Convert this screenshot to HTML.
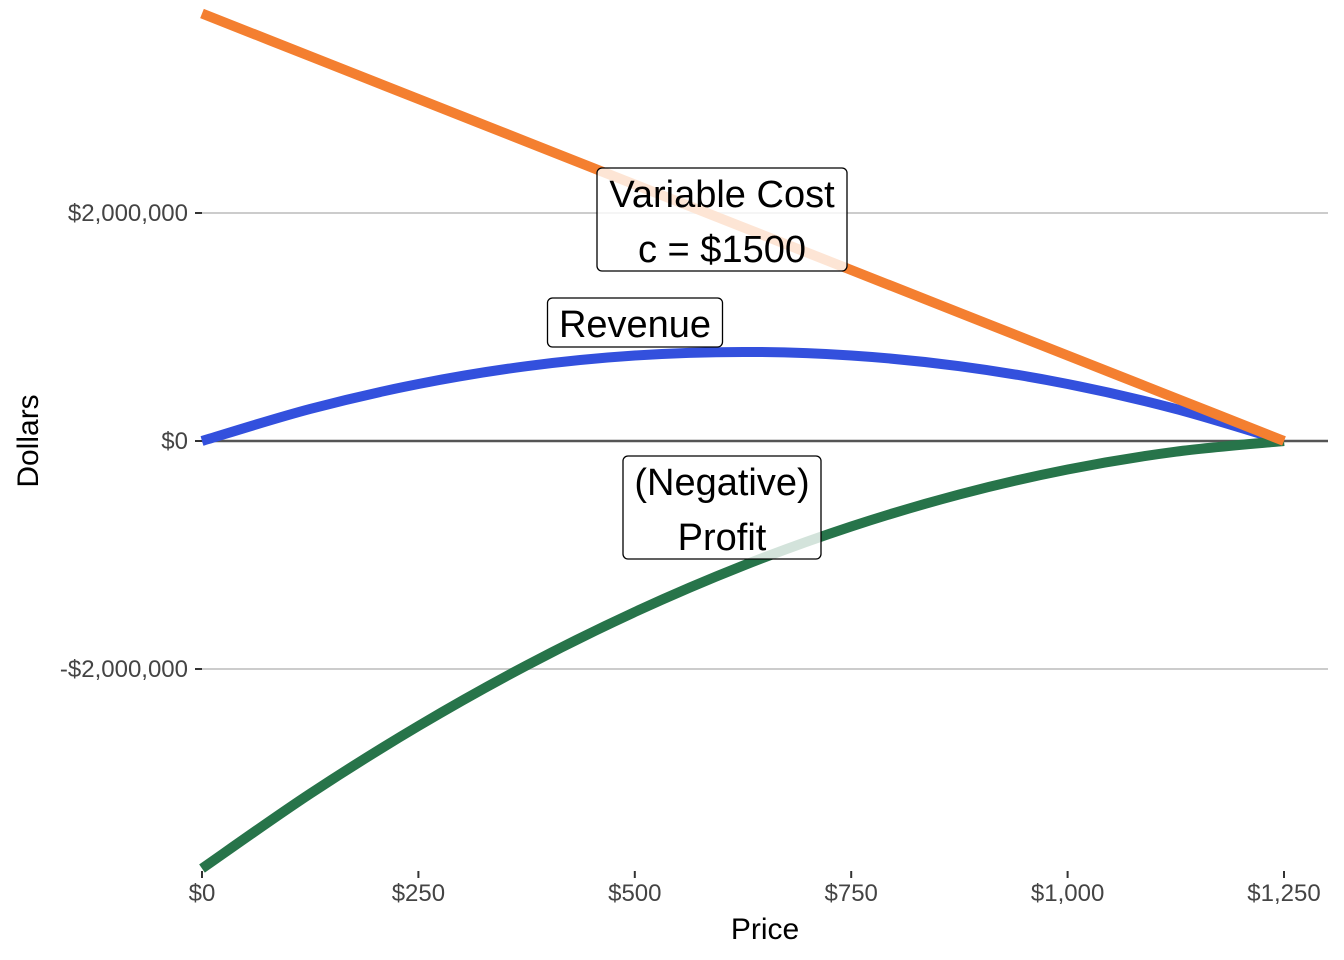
<!DOCTYPE html>
<html><head><meta charset="utf-8"><style>
html,body{margin:0;padding:0;background:#fff;}
svg{display:block;font-family:"Liberation Sans",Arial,sans-serif;}
</style></head><body>
<svg id="chart" width="1344" height="960"></svg>
<script>
const prices = [0,125,250,375,500,625,750,875,1000,1125,1250];
const revenue = [0,281250,500000,656250,750000,781250,750000,656250,500000,281250,0];
const variableCost = [3750000,3375000,3000000,2625000,2250000,1875000,1500000,1125000,750000,375000,0];
const profit = [-3750000,-3093750,-2500000,-1968750,-1500000,-1093750,-750000,-468750,-250000,-93750,0];
const xTicks = [0,250,500,750,1000,1250];
const xTickLabels = ["$0","$250","$500","$750","$1,000","$1,250"];
const yTicks = [-2000000,0,2000000];
const yTickLabels = ["-$2,000,000","$0","$2,000,000"];

const NS="http://www.w3.org/2000/svg";
const svg=document.getElementById('chart');
const X=p=>202+(p/1250)*1082;
const Y=v=>441-(v/2000000)*228;
function mk(tag,attrs,parent){const e=document.createElementNS(NS,tag);for(const k in attrs)e.setAttribute(k,attrs[k]);(parent||svg).appendChild(e);return e;}

yTicks.forEach((v,i)=>{
  const g=mk('line',{x1:202,x2:1328,y1:Y(v),y2:Y(v),stroke:v===0?'#555':'#ccc','stroke-width':v===0?2.5:2});
  
  
  const t=mk('line',{x1:195,x2:202,y1:Y(v),y2:Y(v),stroke:'#333','stroke-width':2});
  
  
  const l=mk('text',{x:188,y:Y(v)+8,'text-anchor':'end','font-size':24,fill:'#444'});
  l.textContent=yTickLabels[i];
  
  
});
xTicks.forEach((p,i)=>{
  const t=mk('line',{x1:X(p),x2:X(p),y1:871,y2:878,stroke:'#333','stroke-width':2});
  
  
  const l=mk('text',{x:X(p),y:901,'text-anchor':'middle','font-size':24,fill:'#444'});
  l.textContent=xTickLabels[i];
  
  
});

function pathFor(vals){
  const pts=prices.map((p,i)=>[X(p),Y(vals[i])]);
  let d='M'+pts[0][0]+','+pts[0][1];
  for(let i=0;i<pts.length-1;i++){
    const p0=pts[Math.max(0,i-1)],p1=pts[i],p2=pts[i+1],p3=pts[Math.min(pts.length-1,i+2)];
    const c1=[p1[0]+(p2[0]-p0[0])/6,p1[1]+(p2[1]-p0[1])/6];
    const c2=[p2[0]-(p3[0]-p1[0])/6,p2[1]-(p3[1]-p1[1])/6];
    d+=' C'+c1+' '+c2+' '+p2;
  }
  return d;
}
const series=[[revenue,'#3350DD','revenue-line'],[profit,'#27744A','profit-line'],[variableCost,'#F47F30','variable-cost-line']];
series.forEach(s=>{
  const p=mk('path',{d:pathFor(s[0]),fill:'none',stroke:s[1],'stroke-width':10});
  
  
});

function label(cx,top,w,h,lines,name){
  const g=mk('g',{});
  
  
  mk('rect',{x:cx-w/2,y:top,width:w,height:h,rx:5,fill:'rgba(255,255,255,0.8)',stroke:'#000','stroke-width':1.3},g);
  lines.forEach((ln,i)=>{
    const t=mk('text',{x:cx,y:top+39+i*55,'text-anchor':'middle','font-size':38,fill:'#000'},g);
    t.textContent=ln;
  });
}
label(722,168,250,103,['Variable Cost','c = $1500'],'variable-cost-label');
label(635,298,175,49,['Revenue'],'revenue-label');
label(722,456,198,103,['(Negative)','Profit'],'profit-label');

const xt=mk('text',{x:765,y:939,'text-anchor':'middle','font-size':30,fill:'#000'});
xt.textContent='Price';


const yt=mk('text',{x:38,y:441,'text-anchor':'middle','font-size':30,fill:'#000',transform:'rotate(-90 38 441)'});
yt.textContent='Dollars';


</script>
</body></html>
